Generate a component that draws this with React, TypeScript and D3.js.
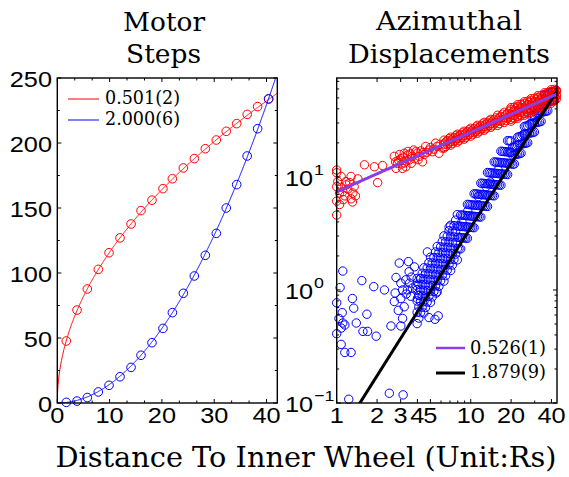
import * as d3 from "d3";

// ---- left panel: motor steps vs distance ----
const stepX = [1.72, 3.77, 5.74, 7.84, 9.89, 11.99, 14.1, 16.0, 18.1, 20.2, 22.0, 24.1, 26.2, 28.3, 30.4, 32.3, 34.3, 36.3, 38.3, 40.4];
const stepRed = [47.7, 71.5, 87.7, 102.8, 115.6, 127, 137.7, 148, 156, 164.9, 172.5, 180.8, 188, 195.6, 202.3, 209, 214.9, 222, 228, 233.8];
const stepBlue = [0.5, 1.5, 4.2, 8.5, 13.6, 20.2, 27.4, 36.7, 46.4, 57.4, 69.5, 84.4, 97.7, 113.6, 130.5, 150, 168, 190, 211, 234];
const fitRed = { a: 36.6, p: 0.501, label: "0.501(2)" };
const fitBlue = { a: 0.1435, p: 2.0, label: "2.000(6)" };

// ---- right panel: azimuthal displacements (log-log) ----
// scattered red points at small distance
const azRedLow: [number, number][] = [
  [1.0, 11.5], [1.0, 10.9], [1.08, 10.1], [1.02, 9.1], [1.17, 9.1], [1.28, 10.1], [1.44, 9.6], [1.0, 8.2],
  [1.08, 8.1], [1.11, 7.4], [1.21, 7.8], [1.32, 7.2], [1.38, 6.8], [1.28, 6.4], [1.31, 6.0], [1.0, 6.1],
  [1.05, 5.7], [1.15, 6.8], [1.0, 4.6], [1.18, 8.5], [1.05, 7.2], [1.25, 8.9], [1.12, 6.3], [1.35, 8.2],
  [1.61, 12.8], [1.91, 12.3], [2.2, 12.6], [2.02, 8.9],
  [2.69, 15.2], [2.84, 13.2], [3.01, 14.5], [3.19, 16.2], [3.28, 12.3], [3.47, 14.1], [3.67, 15.2], [2.77, 11.9],
  [3.1, 11.9], [3.37, 15.6], [3.89, 16.7], [4.12, 15.2], [4.36, 13.6], [4.61, 18.6], [4.88, 17.3], [5.17, 16.7],
  [5.47, 19.9], [5.79, 16.2], [6.13, 18.0], [2.9, 14.0], [3.05, 13.0], [3.15, 15.0], [3.3, 13.8], [3.55, 16.0],
  [3.8, 14.5], [4.0, 16.3], [4.25, 17.0], [4.5, 15.8], [4.7, 16.5], [5.0, 18.2], [5.3, 17.6], [5.6, 18.6], [5.9, 19.4],
  [2.75, 13.6], [2.95, 15.8], [3.2, 13.3], [3.4, 16.8], [3.6, 13.2], [3.75, 17.3], [4.05, 14.2], [4.4, 16.4],
];
// dense red band
const azRedBand: [number, number][] = [
  [6.31, 17.99], [6.31, 19.5], [6.31, 21.13], [6.68, 19.31], [6.68, 20.93], [7.08, 19.11], [7.08, 20.72], [7.08, 22.46],
  [7.5, 20.51], [7.5, 22.23], [7.94, 20.3], [7.94, 22.01], [7.94, 23.86], [8.41, 21.79], [8.41, 23.62],
  [8.91, 21.57], [8.91, 23.38], [8.91, 25.34], [9.44, 23.15], [9.44, 25.09], [10, 22.92], [10, 24.85], [10, 26.93],
  [10.59, 24.6], [10.59, 26.66], [11.22, 24.35], [11.22, 26.39], [11.22, 28.61], [11.89, 26.13], [11.89, 28.32],
  [12.59, 25.87], [12.59, 28.04], [12.59, 30.39], [13.34, 27.76], [13.34, 30.09], [14.13, 27.49], [14.13, 29.79],
  [14.13, 32.29], [14.96, 29.49], [14.96, 31.97], [15.85, 28.54], [15.85, 31.65], [15.85, 35.12], [16.79, 31.01],
  [16.79, 34.33], [17.78, 30.31], [17.78, 33.63], [17.78, 37.31], [18.84, 32.96], [18.84, 36.47], [19.95, 32.21],
  [19.95, 35.73], [19.95, 39.63], [21.13, 35.02], [21.13, 38.75], [22.39, 34.21], [22.39, 37.96], [22.39, 42.11],
  [23.71, 37.21], [23.71, 41.17], [25.12, 36.37], [25.12, 40.33], [25.12, 44.74], [26.61, 39.53], [26.61, 43.74],
  [28.18, 38.64], [28.18, 42.86], [28.18, 47.54], [29.85, 42.0], [29.85, 46.48], [31.62, 41.04], [31.62, 45.53],
  [31.62, 50.49], [33.5, 44.62], [33.5, 49.36], [35.48, 43.61], [35.48, 48.36], [35.48, 53.65], [37.58, 47.41],
  [37.58, 52.45], [39.81, 46.34], [39.81, 51.38], [39.81, 57.0], [42.17, 50.35], [42.17, 55.72],
  [43.5, 49.0], [43.5, 53.5], [43.5, 58.0],
  [6.494, 18.56], [6.494, 20.35], [6.879, 19.85], [6.879, 21.76], [7.286, 19.72], [7.286, 21.62], [7.718, 21.09],
  [7.718, 23.12], [8.175, 20.95], [8.175, 22.97], [8.66, 22.4], [8.66, 24.56], [9.173, 22.26], [9.173, 24.41],
  [9.716, 23.8], [9.716, 26.1], [10.29, 23.65], [10.29, 25.93], [10.9, 25.28], [10.9, 27.73], [11.55, 25.13],
  [11.55, 27.55], [12.23, 26.87], [12.23, 29.46], [12.96, 26.69], [12.96, 29.27], [13.73, 28.55], [13.73, 31.31],
  [14.54, 28.37], [14.54, 31.11], [15.4, 30.33], [15.4, 33.26], [16.31, 29.65], [16.31, 33.27], [17.28, 32.0],
  [17.28, 35.91], [18.3, 31.5], [18.3, 35.35], [19.39, 33.99], [19.39, 38.14], [20.54, 33.46], [20.54, 37.55],
  [21.75, 36.12], [21.75, 40.52], [23.04, 35.56], [23.04, 39.89], [24.41, 38.37], [24.41, 43.05], [25.85, 37.77],
  [25.85, 42.38], [27.38, 40.76], [27.38, 45.74], [29.0, 40.13], [29.0, 45.03], [30.73, 43.31], [30.73, 48.59],
  [32.55, 42.64], [32.55, 47.84], [34.47, 46.01], [34.47, 51.63], [36.52, 45.3], [36.52, 50.83], [38.68, 48.89],
  [38.68, 54.86], [40.97, 48.13], [40.97, 54.01], [43.4, 51.94], [43.4, 58.29],
  [19.95, 41.02], [19.95, 31.12], [22.39, 43.59], [22.39, 33.05], [25.12, 46.3], [25.12, 35.12], [28.18, 49.19],
  [28.18, 37.31], [31.62, 52.27], [31.62, 39.64], [35.48, 55.53], [35.48, 42.12], [39.81, 59.0], [39.81, 44.76],
  [21.13, 41.32], [21.13, 32.82], [23.71, 43.91], [23.71, 34.87], [26.61, 46.65], [26.61, 37.05], [29.85, 49.56],
  [29.85, 39.36], [33.5, 52.65], [33.5, 41.82], [37.58, 55.94], [37.58, 44.44], [42.17, 59.43], [42.17, 47.21],
];
// scattered blue points at small distance
const azBlueLow: [number, number][] = [
  [1.11, 1.47], [1.06, 1.05], [1.0, 0.77], [1.04, 0.56], [1.11, 0.51], [1.15, 0.49], [1.0, 0.41], [1.08, 0.46],
  [1.31, 0.84], [1.34, 0.69], [1.1, 0.63], [1.08, 0.33], [1.15, 0.28], [1.28, 0.28], [1.4, 0.51], [1.54, 1.21],
  [1.68, 0.61], [1.57, 0.43], [1.7, 0.43], [1.97, 0.39], [1.89, 1.07], [2.27, 1.0], [1.23, 0.108], [2.47, 0.122],
  [3.13, 0.118], [2.93, 1.73], [3.43, 1.78], [3.47, 1.45], [2.69, 0.79], [2.54, 0.48], [3.1, 0.56], [3.01, 0.48],
  [2.88, 0.66], [3.19, 0.71], [2.77, 1.29], [3.01, 1.15], [3.28, 1.23], [3.1, 1.0], [3.37, 1.0], [3.57, 0.88],
  [2.73, 0.94], [3.01, 0.84], [4.88, 0.57], [5.41, 0.55], [5.72, 0.59], [4.0, 0.84], [3.67, 1.04], [4.24, 1.27],
  [4.75, 2.17], [5.53, 0.94], [3.6, 1.3], [3.8, 1.6], [3.9, 1.1], [4.1, 0.9], [3.5, 1.15], [3.3, 0.92],
];
// dense blue band
const azBlueBand: [number, number][] = [
  [3.98, 0.504], [3.98, 0.635], [3.98, 0.799], [3.98, 1.006], [3.98, 1.266],
  [4.22, 0.63], [4.22, 0.793], [4.22, 0.999], [4.22, 1.257],
  [4.47, 0.626], [4.47, 0.788], [4.47, 0.992], [4.47, 1.248], [4.47, 1.571],
  [4.73, 0.782], [4.73, 0.985], [4.73, 1.24], [4.73, 1.561],
  [5.01, 0.777], [5.01, 0.978], [5.01, 1.231], [5.01, 1.55], [5.01, 1.951],
  [5.31, 0.971], [5.31, 1.223], [5.31, 1.539], [5.31, 1.938],
  [5.62, 0.964], [5.62, 1.214], [5.62, 1.529], [5.62, 1.924], [5.62, 2.423],
  [5.96, 1.206], [5.96, 1.518], [5.96, 1.911], [5.96, 2.406],
  [6.31, 1.197], [6.31, 1.507], [6.31, 1.897], [6.31, 2.389], [6.31, 3.008],
  [6.68, 1.497], [6.68, 1.884], [6.68, 2.372], [6.68, 2.987],
  [7.08, 1.486], [7.08, 1.871], [7.08, 2.356], [7.08, 2.966], [7.08, 3.734],
  [7.5, 1.858], [7.5, 2.339], [7.5, 2.945], [7.5, 3.708],
  [7.94, 1.845], [7.94, 2.323], [7.94, 2.925], [7.94, 3.682], [7.94, 4.636],
  [8.41, 2.307], [8.41, 2.905], [8.41, 3.657], [8.41, 4.605],
  [8.91, 2.885], [8.91, 3.632], [8.91, 4.573],
  [9.44, 2.864], [9.44, 3.606], [9.44, 4.539], [9.44, 5.715],
  [10, 3.581], [10, 4.508], [10, 5.675],
  [10.59, 3.556], [10.59, 4.477], [10.59, 5.636], [10.59, 7.096],
  [11.22, 4.446], [11.22, 5.598], [11.22, 7.047],
  [11.89, 4.416], [11.89, 5.559], [11.89, 6.998], [11.89, 8.81],
  [12.59, 5.521], [12.59, 6.95], [12.59, 8.75],
  [13.34, 5.483], [13.34, 6.902], [13.34, 8.69], [13.34, 10.94],
  [14.13, 6.855], [14.13, 8.63], [14.13, 10.86],
  [14.96, 6.808], [14.96, 8.57], [14.96, 10.79], [14.96, 13.58],
  [15.85, 8.511], [15.85, 10.72], [15.85, 13.49],
  [16.79, 8.453], [16.79, 10.64], [16.79, 13.4], [16.79, 16.87],
  [17.78, 10.57], [17.78, 13.3], [17.78, 16.75],
  [18.84, 10.5], [18.84, 13.21], [18.84, 16.63], [18.84, 20.94],
  [19.95, 13.12], [19.95, 16.52], [19.95, 20.8],
  [21.13, 13.03], [21.13, 15.67], [21.13, 18.41],
  [22.39, 15.92], [22.39, 19.14], [22.39, 22.49],
  [23.71, 16.18], [23.71, 19.45], [23.71, 22.86],
  [25.12, 19.77], [25.12, 23.77], [25.12, 27.93],
  [26.61, 20.09], [26.61, 24.15], [26.61, 28.38],
  [28.18, 24.55], [28.18, 29.51], [28.18, 34.67],
  [29.85, 24.95], [29.85, 29.99], [29.85, 35.24],
  [31.62, 30.48], [31.62, 36.64], [31.62, 43.05],
  [33.5, 30.97], [33.5, 37.24], [33.5, 43.75],
  [35.48, 37.84], [35.48, 45.5], [35.48, 53.46],
  [37.58, 38.46], [37.58, 46.24], [37.58, 54.33],
  [39.81, 46.99], [39.81, 56.49], [42.17, 47.75], [42.17, 57.41],
  [6.9, 3.6], [8.6, 4.0], [11.4, 6.7], [9.5, 5.0], [13, 8.2], [16, 11.5], [20, 16.5], [25, 24], [30, 34], [14, 9],
  [4.098, 0.5636], [4.098, 0.7093], [4.098, 0.893], [4.098, 1.124], [4.341, 0.7043], [4.341, 0.8867], [4.341, 1.116],
  [4.341, 1.405], [4.597, 0.6994], [4.597, 0.8806], [4.597, 1.109], [4.597, 1.396], [4.87, 0.8746], [4.87, 1.101],
  [4.87, 1.386], [4.87, 1.745], [5.158, 0.8686], [5.158, 1.093], [5.158, 1.377], [5.158, 1.733], [5.464, 1.086],
  [5.464, 1.367], [5.464, 1.721], [5.464, 2.167], [5.788, 1.078], [5.788, 1.357], [5.788, 1.709], [5.788, 2.151],
  [6.131, 1.348], [6.131, 1.697], [6.131, 2.136], [6.131, 2.69], [6.494, 1.339], [6.494, 1.685], [6.494, 2.122],
  [6.494, 2.671], [6.879, 1.674], [6.879, 2.107], [6.879, 2.653], [6.879, 3.34], [7.286, 1.662], [7.286, 2.092],
  [7.286, 2.634], [7.286, 3.316], [7.718, 2.078], [7.718, 2.616], [7.718, 3.293], [7.718, 4.146],
  [8.175, 2.315], [8.175, 2.915], [8.175, 3.669], [8.66, 2.895], [8.66, 3.644], [8.66, 4.588], [9.173, 2.874],
  [9.173, 3.618], [9.173, 4.555], [9.716, 3.593], [9.716, 4.523], [9.716, 5.694], [10.29, 3.568], [10.29, 4.491],
  [10.29, 5.654], [10.9, 4.461], [10.9, 5.616], [10.9, 7.07], [11.55, 4.429], [11.55, 5.576], [11.55, 7.02],
  [12.23, 5.538], [12.23, 6.972], [12.23, 8.778], [12.96, 5.5], [12.96, 6.924], [12.96, 8.717], [13.73, 6.877],
  [13.73, 8.658], [13.73, 10.9], [14.54, 6.828], [14.54, 8.596], [14.54, 10.82], [15.4, 8.536], [15.4, 10.75],
  [15.4, 13.53], [16.31, 8.477], [16.31, 10.67], [16.31, 13.44], [17.28, 10.6], [17.28, 13.35], [17.28, 16.8],
  [18.3, 10.52], [18.3, 13.25], [18.3, 16.68], [19.39, 13.16], [19.39, 16.57], [19.39, 20.86],
  [20.54, 12.92], [20.54, 15.53], [20.54, 18.25], [21.75, 15.78], [21.75, 18.98], [23.04, 16.04], [23.04, 19.28],
  [23.04, 22.65], [24.41, 19.6], [24.41, 23.56], [25.85, 19.91], [25.85, 23.94], [25.85, 28.13], [27.38, 24.33],
  [27.38, 29.25], [29.0, 24.72], [29.0, 29.72], [29.0, 34.91], [30.73, 30.2], [30.73, 36.31], [32.55, 30.69],
  [32.55, 36.9], [32.55, 43.35], [34.47, 37.5], [34.47, 45.08], [36.52, 38.1], [36.52, 45.81], [36.52, 53.82],
  [38.68, 46.55], [38.68, 55.97], [40.97, 47.31], [40.97, 56.88], [43.4, 57.8],
];
const fitPurple = { a: 7.4, p: 0.526, label: "0.526(1)" };
const fitBlack = { a: 0.0473, p: 1.879, label: "1.879(9)" };

const leftXTicks = [0, 10, 20, 30, 40];
const leftYTicks = [0, 50, 100, 150, 200, 250];
const rightXTicks = [1, 2, 3, 4, 5, 10, 20, 40];
const rightYTicks = [0.1, 1, 10];
const rightYExp = ["\u22121", "0", "1"];

const L = { x0: 57.3, x1: 277.3, y0: 78, y1: 403 };
const R = { x0: 336.7, x1: 557, y0: 78, y1: 403 };

const xL = d3.scaleLinear().domain([0, 42.06]).range([L.x0, L.x1]);
const yL = d3.scaleLinear().domain([0, 250]).range([L.y1, L.y0]);
const xR = d3.scaleLog().domain([1, 44]).range([R.x0, R.x1]);
const yR = d3.scaleLog().domain([0.1, 75]).range([R.y1, R.y0]);

const SX = 1.15;

const Lbl = ({ x, y, anchor = "middle", size = 22, children }: any) => (
  <text transform={`translate(${x},${y}) scale(${SX},1)`} textAnchor={anchor} fill="#000"
    fontFamily="Liberation Sans" fontSize={size}>
    {children}
  </text>
);

// serif text, stretched vertically by sy and fitted to a measured width
const Serif = ({ x, y, len, size, sy = 1, anchor = "middle", children }: any) => (
  <text transform={`translate(${x},${y}) scale(1,${sy})`} textAnchor={anchor} textLength={len}
    lengthAdjust="spacingAndGlyphs" fill="#000" fontFamily="DejaVu Serif" fontSize={size}>
    {children}
  </text>
);

const tickMarks = (box: any, xs: number[], ys: number[], sx: any, sy: any, len: number) => {
  const d: string[] = [];
  xs.forEach((v) => {
    const px = sx(v);
    d.push(`M${px},${box.y1}v${-len}`, `M${px},${box.y0}v${len}`);
  });
  ys.forEach((v) => {
    const py = sy(v);
    d.push(`M${box.x0},${py}h${len}`, `M${box.x1},${py}h${-len}`);
  });
  return <path d={d.join("")} stroke="#000" strokeWidth={1} fill="none" />;
};

const powerLine = (fit: any, sx: any, sy: any, xs: number[]) =>
  d3.line<number>().x((x) => sx(x)).y((x) => sy(fit.a * Math.pow(x, fit.p)))(xs) || "";

const Dots = ({ pts, color }: { pts: [number, number][]; color: string }) => (
  <g fill="none" stroke={color} strokeWidth={1}>
    {pts.map(([x, y], i) => <circle key={i} cx={xR(x)} cy={yR(y)} r={4.2} />)}
  </g>
);

export default function App() {
  const leftMinorX = d3.range(0, 42.1, 10 / 3).filter((v) => Math.abs(v / 10 - Math.round(v / 10)) > 0.01);
  const leftMinorY = [25, 75, 125, 175, 225];
  const rightAllX = xR.ticks().filter((v) => !rightXTicks.includes(v));
  const rightAllY = yR.ticks().filter((v) => !rightYTicks.includes(v));

  const curveXs = d3.range(0, 42.07, 0.05);
  const logXs = d3.range(0, 1.6436, 0.01).map((e) => Math.pow(10, e));

  return (
    <svg width={569} height={477} style={{ position: "absolute", left: 0, top: 0, background: "#fff" }}>
      <defs>
        <clipPath id="clipL"><rect x={L.x0} y={L.y0} width={L.x1 - L.x0} height={L.y1 - L.y0} /></clipPath>
        <clipPath id="clipR"><rect x={R.x0} y={R.y0} width={R.x1 - R.x0} height={R.y1 - R.y0} /></clipPath>
      </defs>

      <Serif x={164} y={31} len={82} size={26}>Motor</Serif>
      <Serif x={163.5} y={63} len={75} size={26}>Steps</Serif>
      <Serif x={449} y={30} len={146} size={26}>Azimuthal</Serif>
      <Serif x={449} y={63} len={202} size={26}>Displacements</Serif>

      {/* left panel */}
      <g clipPath="url(#clipL)">
        <path d={powerLine(fitRed, xL, yL, curveXs)} fill="none" stroke="#ff0000" strokeWidth={1} />
        <path d={powerLine(fitBlue, xL, yL, curveXs)} fill="none" stroke="#0000ff" strokeWidth={1} />
      </g>
      {stepX.map((x, i) => (
        <circle key={"r" + i} cx={xL(x)} cy={yL(stepRed[i])} r={4.3} fill="none" stroke="#ff0000" strokeWidth={1} />
      ))}
      {stepX.map((x, i) => (
        <circle key={"b" + i} cx={xL(x)} cy={yL(stepBlue[i])} r={4.3} fill="none" stroke="#0000ff" strokeWidth={1} />
      ))}
      {tickMarks(L, leftXTicks, leftYTicks, xL, yL, 4)}
      {tickMarks(L, leftMinorX, leftMinorY, xL, yL, 2.5)}
      <rect x={L.x0} y={L.y0} width={L.x1 - L.x0} height={L.y1 - L.y0} fill="none" stroke="#000" strokeWidth={1.4} />
      {leftXTicks.map((t) => <Lbl key={t} x={xL(t)} y={423}>{t}</Lbl>)}
      {leftYTicks.map((t) => <Lbl key={t} x={52} y={yL(t) + 8.5} anchor="end">{t}</Lbl>)}

      <line x1={68} x2={99} y1={99} y2={99} stroke="#ff0000" strokeWidth={1} />
      <line x1={68} x2={99} y1={120} y2={120} stroke="#0000ff" strokeWidth={1} />
      <Serif x={105} y={104} len={75} size={19} anchor="start">{fitRed.label}</Serif>
      <Serif x={105} y={125} len={75} size={19} anchor="start">{fitBlue.label}</Serif>

      {/* right panel */}
      <Dots pts={azBlueLow} color="#0000ff" />
      <Dots pts={azBlueBand} color="#0000ff" />
      <Dots pts={azRedLow} color="#ff0000" />
      <Dots pts={azRedBand} color="#ff0000" />
      <g clipPath="url(#clipR)">
        <path d={powerLine(fitBlack, xR, yR, logXs)} fill="none" stroke="#000" strokeWidth={3} />
        <path d={powerLine(fitPurple, xR, yR, logXs)} fill="none" stroke="#8a3ee8" strokeWidth={3} />
      </g>
      {tickMarks(R, rightXTicks, rightYTicks, xR, yR, 4)}
      {tickMarks(R, rightAllX, rightAllY, xR, yR, 2.5)}
      <rect x={R.x0} y={R.y0} width={R.x1 - R.x0} height={R.y1 - R.y0} fill="none" stroke="#000" strokeWidth={1.4} />
      {rightXTicks.map((t) => <Lbl key={t} x={xR(t)} y={423}>{t}</Lbl>)}
      {rightYTicks.map((t, i) => (
        <g key={t}>
          <Lbl x={285} y={yR(t) + 9} anchor="start">10</Lbl>
          <Lbl x={314} y={yR(t) - 2} anchor="start" size={15.5}>{rightYExp[i]}</Lbl>
        </g>
      ))}

      <line x1={436} x2={465} y1={348} y2={348} stroke="#8a3ee8" strokeWidth={2.5} />
      <line x1={436} x2={465} y1={373} y2={373} stroke="#000" strokeWidth={3} />
      <Serif x={470} y={354} len={76} size={19} anchor="start">{fitPurple.label}</Serif>
      <Serif x={470} y={378} len={76} size={19} anchor="start">{fitBlack.label}</Serif>

      <Serif x={306} y={467} len={501} size={24} sy={1.2}>Distance To Inner Wheel (Unit:Rs)</Serif>
    </svg>
  );
}
